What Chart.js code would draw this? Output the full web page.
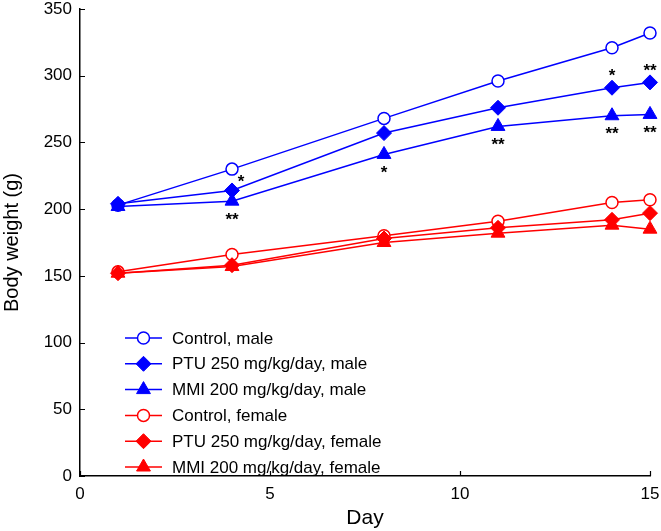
<!DOCTYPE html>
<html>
<head>
<meta charset="utf-8">
<script src="https://cdn.jsdelivr.net/npm/chart.js@4/dist/chart.umd.min.js"></script>
<style>
  html, body { margin: 0; padding: 0; background: #fff; }
  #wrap { width: 661px; height: 531px; }
</style>
</head>
<body>
<div id="wrap"><canvas id="grafico"></canvas></div>
<script>
/* ---------- dados ---------- */
const dias = [1, 4, 8, 11, 14, 15];

const controleMacho = [203, 230, 268, 296, 321, 332];
const ptuMacho      = [204, 214, 257, 276, 291, 295];
const mmiMacho      = [202, 206, 241, 262, 270, 271];
const controleFemea = [153, 166, 180, 191, 205, 207];
const ptuFemea      = [152, 158, 178, 186, 192, 197];
const mmiFemea      = [152, 157, 175, 182, 188, 185];

const ticksY = [0, 50, 100, 150, 200, 250, 300, 350];
const ticksX = [0, 5, 10, 15];

// asteriscos: serie, dia, texto, lado
const asteriscos = [
  { serie: 1, dia: 4,  texto: '*',  lado: 'direita' },
  { serie: 1, dia: 14, texto: '*',  lado: 'acima' },
  { serie: 1, dia: 15, texto: '**', lado: 'acima' },
  { serie: 2, dia: 4,  texto: '**', lado: 'abaixo' },
  { serie: 2, dia: 8,  texto: '*',  lado: 'abaixo' },
  { serie: 2, dia: 11, texto: '**', lado: 'abaixo' },
  { serie: 2, dia: 14, texto: '**', lado: 'abaixo' },
  { serie: 2, dia: 15, texto: '**', lado: 'abaixo' }
];

const AZUL = '#0000ff';
const VERMELHO = '#ff0000';
const FONTE = "'Liberation Sans', Arial, sans-serif";

function serie(label, valores, cor, estilo, aberto, ordem) {
  const raio = estilo === 'circle' ? 6 : (estilo === 'rectRot' ? 7.5 : 8);
  return {
    label,
    data: dias.map((d, i) => ({ x: d, y: valores[i] })),
    borderColor: cor,
    backgroundColor: aberto ? '#ffffff' : cor,
    pointBackgroundColor: aberto ? '#ffffff' : cor,
    pointBorderColor: cor,
    pointBorderWidth: aberto ? 1.5 : 1,
    pointStyle: estilo,
    pointRadius: raio,
    borderWidth: 1.5,
    tension: 0,
    clip: false,
    order: ordem
  };
}

/* ---------- plugin: marcas internas nos eixos ---------- */
const marcasInternas = {
  id: 'marcasInternas',
  afterDraw(chart) {
    const { ctx, chartArea, scales } = chart;
    ctx.save();
    ctx.strokeStyle = '#000';
    ctx.lineWidth = 1.2;
    ctx.beginPath();
    ticksY.forEach(v => {
      const y = Math.round(scales.y.getPixelForValue(v)) + 0.5;
      ctx.moveTo(chartArea.left, y);
      ctx.lineTo(chartArea.left + 5, y);
    });
    ticksX.forEach(v => {
      const x = Math.round(scales.x.getPixelForValue(v)) + 0.5;
      ctx.moveTo(x, chartArea.bottom);
      ctx.lineTo(x, chartArea.bottom - 5);
    });
    ctx.stroke();
    ctx.restore();
  }
};

/* ---------- plugin: asteriscos ---------- */
const marcasSignificancia = {
  id: 'marcasSignificancia',
  afterDatasetsDraw(chart) {
    const { ctx, scales } = chart;
    ctx.save();
    ctx.fillStyle = '#000';
    ctx.font = 'bold 17px ' + FONTE;
    ctx.textAlign = 'center';
    ctx.textBaseline = 'middle';
    asteriscos.forEach(a => {
      const ds = chart.data.datasets[a.serie];
      const ponto = ds.data.find(p => p.x === a.dia);
      const x = scales.x.getPixelForValue(ponto.x);
      const y = scales.y.getPixelForValue(ponto.y);
      let dx = 0, dy = 0;
      if (a.lado === 'acima') dy = -11;
      if (a.lado === 'abaixo') dy = 19;
      if (a.lado === 'direita') { dx = 9; dy = -8; }
      ctx.fillText(a.texto, x + dx, y + dy);
    });
    ctx.restore();
  }
};

/* ---------- plugin: legenda dentro da área ---------- */
const legendaInterna = {
  id: 'legendaInterna',
  afterDraw(chart) {
    const { ctx } = chart;
    const x0 = 125, x1 = 162, xt = 172;
    const yTopo = 338, passo = 25.8;
    ctx.save();
    ctx.font = '17px ' + FONTE;
    ctx.textBaseline = 'middle';
    chart.data.datasets.forEach((ds, i) => {
      const y = yTopo + i * passo;
      ctx.strokeStyle = ds.borderColor;
      ctx.lineWidth = 1.5;
      ctx.beginPath();
      ctx.moveTo(x0, y);
      ctx.lineTo(x1, y);
      ctx.stroke();
      ctx.fillStyle = ds.pointBackgroundColor;
      ctx.strokeStyle = ds.pointBorderColor;
      ctx.lineWidth = ds.pointBorderWidth;
      Chart.helpers.drawPoint(ctx, {
        pointStyle: ds.pointStyle,
        radius: ds.pointRadius,
        rotation: 0,
        borderWidth: ds.pointBorderWidth
      }, (x0 + x1) / 2, y);
      ctx.fillStyle = '#000';
      ctx.fillText(ds.label, xt, y + 1);
    });
    ctx.restore();
  }
};

new Chart(document.getElementById('grafico'), {
  type: 'line',
  data: {
    datasets: [
      serie('Control, male', controleMacho, AZUL, 'circle', true, 6),
      serie('PTU 250 mg/kg/day, male', ptuMacho, AZUL, 'rectRot', false, 5),
      serie('MMI 200 mg/kg/day, male', mmiMacho, AZUL, 'triangle', false, 4),
      serie('Control, female', controleFemea, VERMELHO, 'circle', true, 3),
      serie('PTU 250 mg/kg/day, female', ptuFemea, VERMELHO, 'rectRot', false, 2),
      serie('MMI 200 mg/kg/day, female', mmiFemea, VERMELHO, 'triangle', false, 1)
    ]
  },
  options: {
    responsive: true,
    maintainAspectRatio: false,
    animation: false,
    layout: { padding: { top: 6, right: 11, left: 0, bottom: 0 } },
    plugins: {
      legend: { display: false },
      tooltip: { enabled: false }
    },
    scales: {
      x: {
        type: 'linear',
        min: 0,
        max: 15,
        afterFit: s => { s.height = 55; s.paddingLeft = 0; s.paddingRight = 0; },
        afterBuildTicks: s => { s.ticks = ticksX.map(v => ({ value: v })); },
        grid: { display: false, drawTicks: false },
        border: { display: true, color: '#000', width: 1.5 },
        ticks: { color: '#000', padding: 8, font: { family: FONTE, size: 17 } },
        title: {
          display: true,
          text: 'Day',
          color: '#000',
          padding: { top: 2, bottom: 0 },
          font: { family: FONTE, size: 21 }
        }
      },
      y: {
        min: 0,
        max: 350,
        afterFit: s => { s.width = 80; s.paddingTop = 0; s.paddingBottom = 0; },
        afterBuildTicks: s => { s.ticks = ticksY.map(v => ({ value: v })); },
        grid: { display: false, drawTicks: false },
        border: { display: true, color: '#000', width: 1.5 },
        ticks: { color: '#000', padding: 8, font: { family: FONTE, size: 17 } },
        title: {
          display: true,
          text: 'Body weight (g)',
          color: '#000',
          padding: { top: 0, bottom: 2 },
          font: { family: FONTE, size: 20 }
        }
      }
    }
  },
  plugins: [marcasInternas, marcasSignificancia, legendaInterna]
});
</script>
</body>
</html>
